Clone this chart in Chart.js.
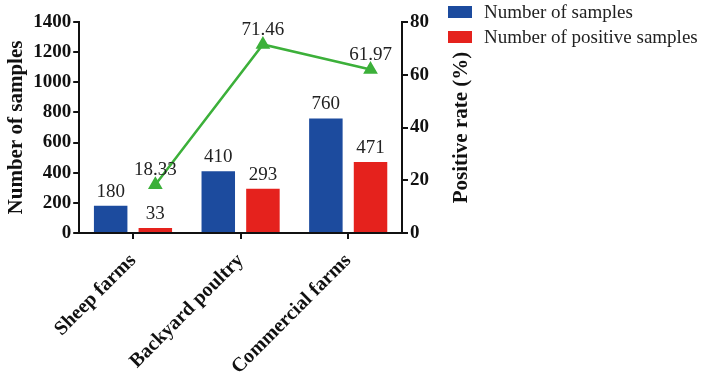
<!DOCTYPE html>
<html>
<head>
<meta charset="utf-8">
<script src="https://cdn.jsdelivr.net/npm/chart.js@4"></script>
<style>
  html, body { margin: 0; padding: 0; background: #fff; }
  #wrap { position: relative; width: 720px; height: 378px; }
  #leyenda { position: absolute; left: 448px; top: -1px; font-family: "Liberation Serif", serif; font-size: 19px; color: #222; }
  #leyenda div { display: flex; align-items: center; height: 25px; }
  #leyenda span.caja { display: inline-block; width: 24px; height: 12px; margin-right: 12px; }
</style>
</head>
<body>
<div id="wrap">
  <canvas id="grafico" width="720" height="378"></canvas>
  <div id="leyenda"></div>
</div>
<script>
// ================= DATOS =================
const categorias = ["Sheep farms", "Backyard poultry", "Commercial farms"];
const muestras = [180, 410, 760];
const positivas = [33, 293, 471];
const tasaPositiva = [18.33, 71.46, 61.97];
const ticksIzq = [0, 200, 400, 600, 800, 1000, 1200, 1400];
const ticksDer = [0, 20, 40, 60, 80];

const AZUL = "#1c4b9e";
const ROJO = "#e5221d";
const VERDE = "#3cb03a";
const SERIF = "'Liberation Serif', serif";
const TITULO_DER = "Positive rate (%)";

// ================= UTILES =================
// la linea se dibuja sobre el centro de la barra roja de cada grupo
function desplazLinea(chart) {
  const rojas = chart.getDatasetMeta(1).data;
  if (!rojas.length) return 0;
  return rojas[0].x - chart.scales.x.getPixelForValue(0);
}

const moverLinea = {
  id: "moverLinea",
  beforeDatasetDraw(chart, args) {
    if (args.meta.type !== "line") return;
    chart.ctx.save();
    chart.ctx.translate(desplazLinea(chart), 0);
  },
  afterDatasetDraw(chart, args) {
    if (args.meta.type !== "line") return;
    chart.ctx.restore();
  }
};

// ================= ETIQUETAS DE VALOR =================
const etiquetas = {
  id: "etiquetas",
  afterDatasetsDraw(chart) {
    const ctx = chart.ctx;
    const dx = desplazLinea(chart);
    ctx.save();
    ctx.fillStyle = "#222";
    ctx.font = "19px " + SERIF;
    ctx.textAlign = "center";
    ctx.textBaseline = "alphabetic";
    chart.data.datasets.forEach((ds, i) => {
      const meta = chart.getDatasetMeta(i);
      const esLinea = meta.type === "line";
      meta.data.forEach((el, j) => {
        const v = esLinea ? ds.data[j].toFixed(2) : ds.data[j];
        ctx.fillText(v, el.x + (esLinea ? dx : 0), el.y - (esLinea ? 10 : 9));
      });
    });
    ctx.restore();
  }
};

// titulo del eje derecho leido de abajo hacia arriba
const tituloDerecho = {
  id: "tituloDerecho",
  afterDraw(chart) {
    const s = chart.scales.y2;
    const ctx = chart.ctx;
    ctx.save();
    ctx.translate(s.right - 12, (chart.chartArea.top + chart.chartArea.bottom) / 2);
    ctx.rotate(-Math.PI / 2);
    ctx.fillStyle = "#111";
    ctx.font = "bold 21px " + SERIF;
    ctx.textAlign = "center";
    ctx.textBaseline = "middle";
    ctx.fillText(TITULO_DER, 0, 0);
    ctx.restore();
  }
};

function crearLeyenda(chart) {
  const cont = document.getElementById("leyenda");
  chart.data.datasets.forEach(ds => {
    if (ds.type === "line") return;
    const fila = document.createElement("div");
    fila.innerHTML = '<span class="caja" style="background:' + ds.backgroundColor + '"></span>' + ds.label;
    cont.appendChild(fila);
  });
}

function dibujar() {
  const chart = new Chart(document.getElementById("grafico").getContext("2d"), {
    type: "bar",
    data: {
      labels: categorias,
      datasets: [
        {
          label: "Number of samples",
          data: muestras,
          backgroundColor: AZUL,
          yAxisID: "y",
          categoryPercentage: 0.83,
          barPercentage: 0.75,
          order: 2
        },
        {
          label: "Number of positive samples",
          data: positivas,
          backgroundColor: ROJO,
          yAxisID: "y",
          categoryPercentage: 0.83,
          barPercentage: 0.75,
          order: 2
        },
        {
          type: "line",
          label: TITULO_DER,
          data: tasaPositiva,
          borderColor: VERDE,
          backgroundColor: VERDE,
          borderWidth: 2.5,
          pointStyle: "triangle",
          pointRadius: 6,
          yAxisID: "y2",
          order: 0
        }
      ]
    },
    options: {
      responsive: false,
      animation: false,
      layout: { padding: { top: 22, left: 2, right: 246, bottom: 2 } },
      plugins: {
        legend: { display: false },
        tooltip: { enabled: false }
      },
      scales: {
        x: {
          offset: true,
          afterFit: s => { s.height = 143; },
          grid: { display: true, offset: false, drawOnChartArea: false, tickLength: 6, color: "#111", lineWidth: 2 },
          border: { display: true, color: "#111", width: 2 },
          ticks: {
            color: "#111",
            minRotation: 45,
            maxRotation: 45,
            padding: 10,
            font: { family: SERIF, size: 20, weight: "bold" }
          }
        },
        y: {
          position: "left",
          min: ticksIzq[0],
          max: ticksIzq[ticksIzq.length - 1],
          afterBuildTicks: s => { s.ticks = ticksIzq.map(v => ({ value: v })); },
          grid: { display: true, drawOnChartArea: false, tickLength: 6, color: "#111", lineWidth: 2 },
          border: { display: true, color: "#111", width: 2 },
          ticks: { color: "#111", padding: 2, callback: v => String(v), font: { family: SERIF, size: 19, weight: "bold" } },
          title: { display: true, text: "Number of samples", color: "#111", padding: 2, font: { family: SERIF, size: 21, weight: "bold" } }
        },
        y2: {
          position: "right",
          min: ticksDer[0],
          max: ticksDer[ticksDer.length - 1],
          afterBuildTicks: s => { s.ticks = ticksDer.map(v => ({ value: v })); },
          afterFit: s => { s.width += 43; },
          grid: { display: true, drawOnChartArea: false, tickLength: 6, color: "#111", lineWidth: 2 },
          border: { display: true, color: "#111", width: 2 },
          ticks: { color: "#111", padding: 2, callback: v => String(v), font: { family: SERIF, size: 19, weight: "bold" } }
        }
      }
    },
    plugins: [moverLinea, etiquetas, tituloDerecho]
  });
  crearLeyenda(chart);
}

Promise.all([
  document.fonts.load("19px 'Liberation Serif'"),
  document.fonts.load("bold 19px 'Liberation Serif'")
]).then(dibujar, dibujar);
</script>
</body>
</html>
